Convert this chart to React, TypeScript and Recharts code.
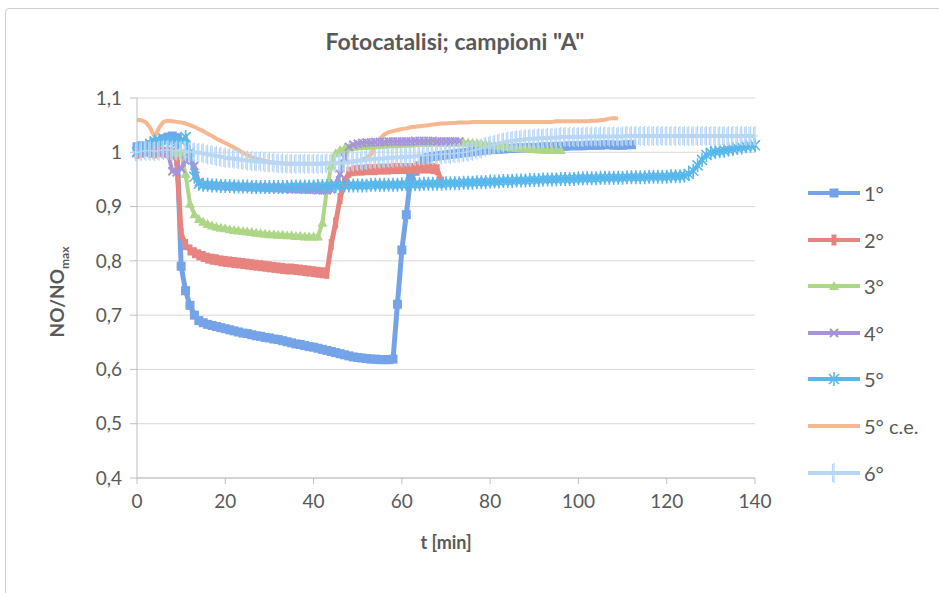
import React from "react";
import { LineChart, Line, XAxis, YAxis, CartesianGrid } from "recharts";

// values sampled once per minute, index = t [min]
const s1 = [
  1.01, 1.012, 1.01, 1.014, 1.018, 1.02, 1.025, 1.028, 1.03, 1.027,
  0.79, 0.745, 0.718, 0.7, 0.69, 0.686, 0.683, 0.681, 0.679, 0.677,
  0.675, 0.673, 0.671, 0.669, 0.667, 0.666, 0.664, 0.662, 0.661, 0.659,
  0.658, 0.656, 0.655, 0.653, 0.651, 0.649, 0.647, 0.646, 0.644, 0.642,
  0.641, 0.639, 0.637, 0.635, 0.633, 0.631, 0.629, 0.627, 0.625, 0.623,
  0.622, 0.621, 0.62, 0.619, 0.619, 0.618, 0.618, 0.618, 0.619, 0.72,
  0.82, 0.885, 0.955, 0.965, 0.975, 0.985, 0.99, 0.992, 0.993, 0.994,
  0.995, 0.996, 0.997, 0.998, 0.999, 1.0, 1.001, 1.002, 1.003, 1.004,
  1.005, 1.005, 1.006, 1.006, 1.007, 1.007, 1.008, 1.008, 1.008, 1.009,
  1.009, 1.009, 1.01, 1.01, 1.01, 1.011, 1.011, 1.011, 1.012, 1.012,
  1.012, 1.012, 1.013, 1.013, 1.013, 1.013, 1.014, 1.014, 1.013, 1.013,
  1.013, 1.014, 1.014,
];

const s2 = [
  0.998, 1.0, 1.002, 1.0, 0.999, 1.001, 1.0, 1.0, 0.998, 0.985,
  0.85, 0.83, 0.82, 0.815, 0.811, 0.808, 0.805, 0.803, 0.802, 0.8,
  0.799, 0.798, 0.797, 0.796, 0.795, 0.794, 0.793, 0.792, 0.791, 0.79,
  0.789, 0.788, 0.787, 0.786, 0.785, 0.785, 0.784, 0.783, 0.782, 0.781,
  0.78, 0.779, 0.778, 0.777, 0.83, 0.87, 0.915, 0.945, 0.963, 0.966,
  0.967, 0.967, 0.968, 0.968, 0.968, 0.969, 0.969, 0.969, 0.97, 0.97,
  0.97, 0.97, 0.97, 0.97, 0.971, 0.971, 0.971, 0.97, 0.968, 0.945,
];

const s3 = [
  1.0, 1.0, 1.001, 1.0, 0.999, 1.0, 1.001, 1.0, 1.0, 1.0,
  0.998, 0.96, 0.905, 0.886, 0.877, 0.872, 0.868, 0.865, 0.863, 0.861,
  0.86, 0.858, 0.857, 0.856, 0.855, 0.854, 0.853, 0.852, 0.851, 0.85,
  0.849, 0.849, 0.848, 0.848, 0.847, 0.847, 0.846, 0.846, 0.845, 0.845,
  0.845, 0.845, 0.87, 0.93, 0.975, 0.998, 1.004, 1.007, 1.009, 1.01,
  1.011, 1.012, 1.012, 1.013, 1.013, 1.014, 1.014, 1.015, 1.015, 1.015,
  1.016, 1.016, 1.016, 1.017, 1.017, 1.017, 1.017, 1.018, 1.018, 1.018,
  1.018, 1.018, 1.018, 1.018, 1.018, 1.018, 1.017, 1.017, 1.016, 1.015,
  1.014, 1.013, 1.012, 1.011, 1.01, 1.009, 1.008, 1.008, 1.007, 1.006,
  1.006, 1.005, 1.005, 1.004, 1.004, 1.004, 1.004,
];

const s4 = [
  1.0, 1.0, 1.0, 1.001, 1.0, 1.0, 1.0, 0.999, 0.965, 0.963,
  0.97, 0.985, 0.99, 0.975, 0.945, 0.94, 0.939, 0.939, 0.938, 0.938,
  0.937, 0.937, 0.937, 0.936, 0.936, 0.936, 0.935, 0.935, 0.935, 0.934,
  0.934, 0.934, 0.933, 0.933, 0.933, 0.932, 0.932, 0.932, 0.931, 0.931,
  0.931, 0.93, 0.93, 0.93, 0.932, 0.94, 0.96, 0.99, 1.01, 1.014,
  1.016, 1.017, 1.018, 1.018, 1.019, 1.019, 1.019, 1.02, 1.02, 1.02,
  1.02, 1.02, 1.02, 1.021, 1.021, 1.021, 1.021, 1.021, 1.02, 1.02,
  1.02, 1.02, 1.02, 1.02,
];

const s5 = [
  1.0, 1.005, 1.01, 1.015, 1.02, 1.022, 1.02, 1.022, 1.02, 1.018,
  1.02, 1.028, 1.0, 0.955, 0.942, 0.94, 0.94, 0.939, 0.939, 0.938,
  0.938, 0.938, 0.937, 0.937, 0.937, 0.937, 0.936, 0.936, 0.936, 0.936,
  0.936, 0.936, 0.936, 0.936, 0.936, 0.937, 0.937, 0.937, 0.937, 0.937,
  0.937, 0.938, 0.938, 0.938, 0.938, 0.938, 0.938, 0.939, 0.939, 0.939,
  0.939, 0.939, 0.939, 0.94, 0.94, 0.94, 0.94, 0.94, 0.94, 0.94,
  0.941, 0.941, 0.941, 0.941, 0.941, 0.942, 0.942, 0.942, 0.942, 0.942,
  0.943, 0.943, 0.943, 0.943, 0.944, 0.944, 0.944, 0.945, 0.945, 0.945,
  0.946, 0.946, 0.946, 0.947, 0.947, 0.947, 0.948, 0.948, 0.948, 0.949,
  0.949, 0.949, 0.95, 0.95, 0.95, 0.95, 0.951, 0.951, 0.951, 0.951,
  0.952, 0.952, 0.952, 0.952, 0.952, 0.953, 0.953, 0.953, 0.953, 0.953,
  0.953, 0.954, 0.954, 0.954, 0.954, 0.954, 0.955, 0.955, 0.955, 0.955,
  0.955, 0.956, 0.956, 0.956, 0.957, 0.96, 0.966, 0.976, 0.986, 0.995,
  0.999, 1.001, 1.002, 1.003, 1.005, 1.006, 1.008, 1.009, 1.011, 1.012,
  1.013,
];

const s5ce = [
  1.06, 1.059, 1.055, 1.045, 1.028, 1.045, 1.056, 1.058, 1.057, 1.056,
  1.055, 1.053, 1.05, 1.047, 1.043, 1.039, 1.034, 1.03, 1.025, 1.021,
  1.017, 1.013, 1.009, 1.004, 0.999, 0.995, 0.991, 0.988, 0.986, 0.984,
  0.982, 0.981, 0.98, 0.98, 0.979, 0.979, 0.979, 0.979, 0.979, 0.979,
  0.979, 0.979, 0.979, 0.98, 0.98, 0.98, 0.981, 0.981, 0.982, 0.983,
  0.984, 0.986, 0.99, 0.996, 1.01, 1.024, 1.033, 1.037, 1.039, 1.041,
  1.043, 1.044, 1.046, 1.047, 1.048, 1.049, 1.05, 1.051, 1.052, 1.053,
  1.053, 1.054, 1.054, 1.055, 1.055, 1.055, 1.056, 1.056, 1.056, 1.056,
  1.056, 1.056, 1.056, 1.056, 1.056, 1.056, 1.056, 1.056, 1.056, 1.056,
  1.056, 1.056, 1.056, 1.056, 1.056, 1.057, 1.057, 1.057, 1.057, 1.057,
  1.057, 1.057, 1.057, 1.058, 1.058, 1.059, 1.06, 1.062, 1.063, 1.062,
];

const s6 = [
  1.0, 1.002, 1.003, 1.003, 1.002, 1.003, 1.004, 1.004, 1.003, 1.003,
  1.003, 1.002, 1.001, 1.0, 0.999, 0.998, 0.996, 0.995, 0.993, 0.992,
  0.99, 0.989, 0.988, 0.987, 0.986, 0.985, 0.984, 0.983, 0.983, 0.982,
  0.981, 0.981, 0.98, 0.98, 0.979, 0.979, 0.979, 0.979, 0.979, 0.979,
  0.979, 0.979, 0.979, 0.98, 0.98, 0.98, 0.981, 0.981, 0.982, 0.983,
  0.984, 0.985, 0.986, 0.987, 0.988, 0.988, 0.989, 0.99, 0.99, 0.991,
  0.991, 0.992, 0.992, 0.993, 0.994, 0.994, 0.995, 0.995, 0.996, 0.996,
  0.997, 0.997, 0.998, 0.999, 1.0, 1.001, 1.003, 1.005, 1.007, 1.01,
  1.012, 1.014, 1.016, 1.018, 1.02, 1.021, 1.022, 1.023, 1.024, 1.025,
  1.025, 1.026, 1.026, 1.027, 1.027, 1.027, 1.028, 1.028, 1.028, 1.028,
  1.028, 1.028, 1.029, 1.029, 1.029, 1.029, 1.029, 1.029, 1.029, 1.029,
  1.029, 1.03, 1.03, 1.03, 1.03, 1.03, 1.03, 1.03, 1.03, 1.03,
  1.03, 1.03, 1.03, 1.03, 1.03, 1.03, 1.03, 1.03, 1.03, 1.03,
  1.03, 1.03, 1.03, 1.03, 1.03, 1.03, 1.03, 1.03, 1.03, 1.03,
  1.03,
];

const seriesNames = ["1°", "2°", "3°", "4°", "5°", "5° c.e.", "6°"];
const seriesKeys = ["s1", "s2", "s3", "s4", "s5", "s5ce", "s6"];
const seriesValues = [s1, s2, s3, s4, s5, s5ce, s6];
const colors = ["#74a3e8", "#e8847f", "#add686", "#a794d8", "#58b8ec", "#f6b791", "#b8d7f5"];
const markers = ["square", "rect", "triangle", "cross", "star", "none", "plus"];
const widths = [5, 5, 4, 4, 4, 4, 4];

const xTicks = [0, 20, 40, 60, 80, 100, 120, 140];
const yTicks = [0.4, 0.5, 0.6, 0.7, 0.8, 0.9, 1.0, 1.1];

const data = Array.from({ length: 141 }, (_, t) => {
  const row: Record<string, number> = { t };
  seriesKeys.forEach((k, i) => {
    if (t < seriesValues[i].length) row[k] = seriesValues[i][t];
  });
  return row;
});

const FONT = "Lato, 'Open Sans', sans-serif";
const TEXT = "#595959";

const Marker = ({ kind, color, cx, cy }: { kind: string; color: string; cx: number; cy: number }) => {
  switch (kind) {
    case "square":
      return <rect x={cx - 4.5} y={cy - 4.5} width={9} height={9} fill={color} />;
    case "rect":
      return <rect x={cx - 2.5} y={cy - 5.5} width={5} height={11} fill={color} />;
    case "triangle":
      return <path d={`M${cx},${cy - 5} L${cx + 5},${cy + 4} L${cx - 5},${cy + 4} Z`} fill={color} />;
    case "cross":
      return (
        <path d={`M${cx - 4},${cy - 4} L${cx + 4},${cy + 4} M${cx - 4},${cy + 4} L${cx + 4},${cy - 4}`} stroke={color} strokeWidth={2} />
      );
    case "star":
      return (
        <path
          d={`M${cx},${cy - 7} L${cx},${cy + 7} M${cx - 5},${cy - 5} L${cx + 5},${cy + 5} M${cx - 5},${cy + 5} L${cx + 5},${cy - 5}`}
          stroke={color}
          strokeWidth={1.6}
        />
      );
    case "plus":
      return (
        <path
          d={`M${cx},${cy - 10} L${cx},${cy + 10} M${cx - 1.5},${cy - 9} L${cx - 1.5},${cy + 9} M${cx - 3},${cy} L${cx + 3},${cy}`}
          stroke={color}
          strokeWidth={1.2}
        />
      );
    default:
      return null;
  }
};

const makeDot = (kind: string, color: string) => (props: any) => {
  const { cx, cy, index } = props;
  if (cx == null || cy == null || Number.isNaN(cy)) return <g key={`d${index}`} />;
  return (
    <g key={`d${index}`}>
      <Marker kind={kind} color={color} cx={cx} cy={cy} />
    </g>
  );
};

const yFormat = (v: number) => String(Math.round(v * 10) / 10).replace(".", ",");

const YLabel = () => {
  const cx = 64;
  const cy = 292;
  return (
    <text
      x={cx}
      y={cy}
      transform={`rotate(-90, ${cx}, ${cy})`}
      textAnchor="middle"
      fill={TEXT}
      fontFamily={FONT}
      fontWeight={700}
      fontSize={19}
    >
      NO/NO
      <tspan fontSize={12} dy={5}>max</tspan>
    </text>
  );
};

const XLabel = (props: any) => {
  const vb = props.viewBox || {};
  return (
    <text
      x={vb.x + vb.width / 2}
      y={549}
      textAnchor="middle"
      fill={TEXT}
      fontFamily={FONT}
      fontWeight={700}
      fontSize={18}
    >
      t [min]
    </text>
  );
};

const LegendBox = () => (
  <div style={{ position: "absolute", left: 806, top: 180 }}>
    {seriesNames.map((name, i) => (
      <div key={name} style={{ position: "absolute", left: 0, top: i * 46.6, height: 26, display: "flex", alignItems: "center", whiteSpace: "nowrap" }}>
        <svg width={56} height={26}>
          <line x1={2} y1={13} x2={54} y2={13} stroke={colors[i]} strokeWidth={4} />
          <Marker kind={markers[i]} color={colors[i]} cx={28} cy={13} />
        </svg>
        <span style={{ fontFamily: FONT, fontSize: 20, color: TEXT, marginLeft: 2 }}>{name}</span>
      </div>
    ))}
  </div>
);

export default function App() {
  return (
    <div style={{ position: "absolute", left: 0, top: 0, width: 939, height: 593, overflow: "hidden", background: "#fff" }}>
      <div
        style={{
          position: "absolute",
          left: 5,
          top: 8,
          width: 960,
          height: 620,
          border: "1px solid #cfcfcf",
          borderRadius: 4,
        }}
      />
      <div
        style={{
          position: "absolute",
          left: 0,
          width: 910,
          top: 27,
          textAlign: "center",
          fontFamily: FONT,
          fontWeight: 700,
          fontSize: 23,
          color: TEXT,
        }}
      >
        Fotocatalisi; campioni "A"
      </div>
      <div style={{ position: "absolute", left: 0, top: 0 }}>
        <LineChart width={939} height={593} data={data} margin={{ top: 98, right: 184, bottom: 85, left: 77 }}>
          <CartesianGrid vertical={false} stroke="#d9d9d9" />
          <XAxis
            dataKey="t"
            type="number"
            domain={[0, 140]}
            ticks={xTicks}
            height={30}
            tickSize={6}
            tickMargin={11}
            stroke="#bfbfbf"
            tick={{ fill: TEXT, fontSize: 19, fontFamily: FONT }}
            label={XLabel}
          />
          <YAxis
            type="number"
            domain={[0.4, 1.1]}
            ticks={yTicks}
            width={60}
            tickSize={7}
            tickMargin={8}
            allowDataOverflow
            stroke="#bfbfbf"
            tickFormatter={yFormat}
            tick={{ fill: TEXT, fontSize: 19, fontFamily: FONT }}
            label={YLabel}
          />
          {seriesKeys.map((k, i) => (
            <Line
              key={k}
              type="linear"
              dataKey={k}
              name={seriesNames[i]}
              stroke={colors[i]}
              strokeWidth={widths[i]}
              dot={markers[i] === "none" ? false : makeDot(markers[i], colors[i])}
              activeDot={false}
              isAnimationActive={false}
            />
          ))}
        </LineChart>
      </div>
      <LegendBox />
    </div>
  );
}
